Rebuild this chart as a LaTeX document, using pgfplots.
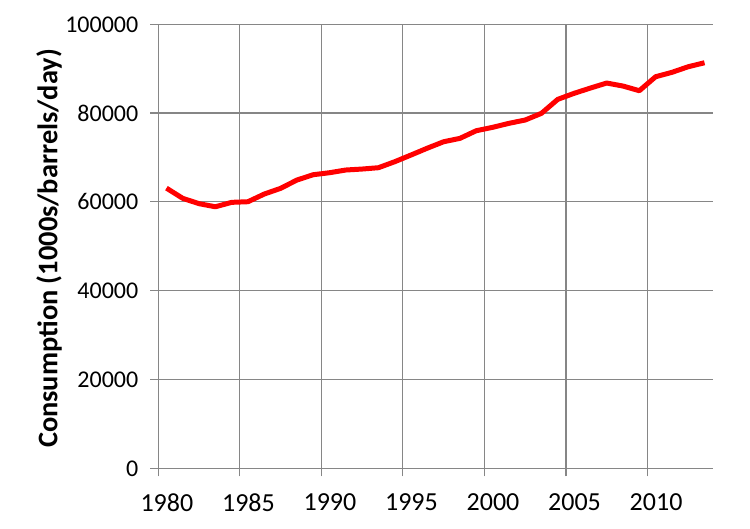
\documentclass[border=0pt]{standalone}
\usepackage{fontspec}
\setmainfont{Carlito}
\usepackage{pgfplots}
\pgfplotsset{compat=1.18}
\definecolor{gridgray}{HTML}{868686}

\begin{document}
\begin{tikzpicture}[font=\fontsize{12bp}{14bp}\selectfont]
  \begin{axis}[
    scale only axis,
    width=277.2bp, height=222bp,
    xmin=1979.5, xmax=2013.5,
    ymin=0, ymax=100000,
    axis x line*=bottom, axis y line*=left,
    axis line style={gridgray, line width=0.6bp, -},
    xtick={1979.5,1984.5,1989.5,1994.5,1999.5,2004.5,2009.5},
    xticklabels={1980,1985,1990,1995,2000,2005,2010},
    ytick={0,20000,40000,60000,80000,100000},
    yticklabels={0,20000,40000,60000,80000,100000},
    scaled y ticks=false,
    /pgf/number format/assume math mode=true,
    tick align=outside,
    major tick length=4bp,
    tick style={gridgray, line width=0.6bp},
    grid=major,
    major grid style={gridgray, line width=0.6bp},
    xticklabel style={font=\fontsize{13bp}{15bp}\selectfont, xshift=4.3bp, yshift=-5bp},
    yticklabel style={font=\fontsize{12bp}{14bp}\selectfont, xshift=-2.5bp},
    ylabel={Consumption (1000s/barrels/day)},
    every axis y label/.style={at={(rel axis cs:-0.197,0.495)}, anchor=center, rotate=90,
      font=\fontsize{14.2bp}{16bp}\selectfont\bfseries},
  ]
    \addplot[red, line width=2.5bp, line join=round, no marks] coordinates {
      (1980, 63100) (1981, 60800) (1982, 59600) (1983, 58900)
      (1984, 59900) (1985, 60040) (1986, 61770) (1987, 63050)
      (1988, 64920) (1989, 66120) (1990, 66570) (1991, 67180)
      (1992, 67400) (1993, 67700) (1994, 69050) (1995, 70560)
      (1996, 72100) (1997, 73550) (1998, 74310) (1999, 76030)
      (2000, 76790) (2001, 77690) (2002, 78440) (2003, 79950)
      (2004, 83100) (2005, 84450) (2006, 85640) (2007, 86770)
      (2008, 86090) (2009, 85040) (2010, 88190) (2011, 89180)
      (2012, 90440) (2013, 91340)
    };
    \coordinate (bl) at (rel axis cs:0,0);
    \coordinate (tr) at (rel axis cs:1,1);
  \end{axis}
  \pgfresetboundingbox
  \path ([shift={(-79.15bp,-30.35bp)}]bl) rectangle ([shift={(18.65bp,12.15bp)}]tr);
\end{tikzpicture}
\end{document}
